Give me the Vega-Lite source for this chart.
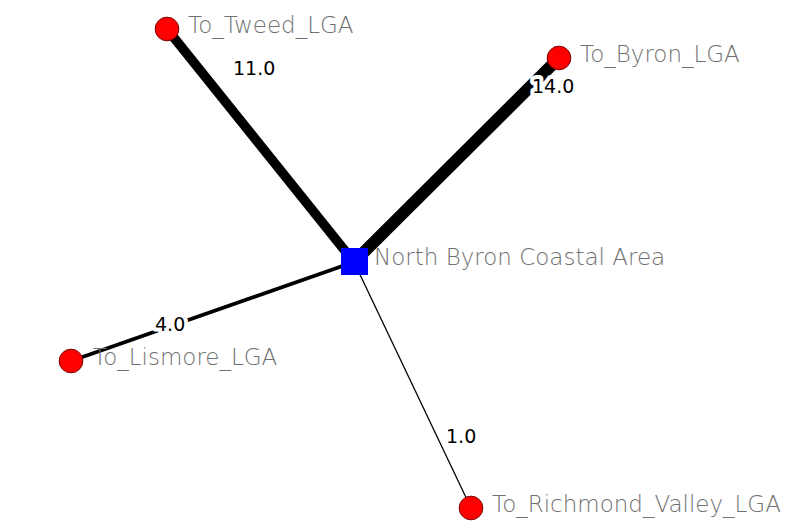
{
  "$schema": "https://vega.github.io/schema/vega-lite/v6.json",
  "width": 789,
  "height": 523,
  "autosize": "none",
  "padding": 0,
  "background": "white",
  "config": {"view": {"stroke": null}},
  "datasets": {
    "edges": [
      {"target": "To_Tweed_LGA", "weight": 11, "sx": 354, "sy": 262, "tx": 167, "ty": 29, "lx": 233, "ly": 75, "label": "11.0"},
      {"target": "To_Byron_LGA", "weight": 14, "sx": 354, "sy": 262, "tx": 559, "ty": 58, "lx": 532, "ly": 93, "label": "14.0"},
      {"target": "To_Lismore_LGA", "weight": 4, "sx": 354, "sy": 262, "tx": 71, "ty": 361, "lx": 155, "ly": 331, "label": "4.0"},
      {"target": "To_Richmond_Valley_LGA", "weight": 1, "sx": 354, "sy": 262, "tx": 471, "ty": 508, "lx": 446, "ly": 443, "label": "1.0"}
    ],
    "nodes": [
      {"name": "North Byron Coastal Area", "kind": "origin", "x": 354.5, "y": 261.5, "labx": 374, "laby": 265},
      {"name": "To_Tweed_LGA", "kind": "destination", "x": 167, "y": 29, "labx": 188, "laby": 33},
      {"name": "To_Byron_LGA", "kind": "destination", "x": 559, "y": 58, "labx": 580, "laby": 62},
      {"name": "To_Lismore_LGA", "kind": "destination", "x": 71, "y": 361, "labx": 93, "laby": 365},
      {"name": "To_Richmond_Valley_LGA", "kind": "destination", "x": 471, "y": 508, "labx": 492, "laby": 512}
    ]
  },
  "layer": [
    {
      "data": {"name": "edges"},
      "mark": {"type": "rule", "color": "black", "strokeCap": "butt"},
      "encoding": {
        "x": {"field": "sx", "type": "quantitative", "scale": {"domain": [0, 789], "nice": false, "zero": false}, "axis": null},
        "y": {"field": "sy", "type": "quantitative", "scale": {"domain": [523, 0], "nice": false, "zero": false}, "axis": null},
        "x2": {"field": "tx"},
        "y2": {"field": "ty"},
        "strokeWidth": {"field": "weight", "type": "quantitative", "scale": {"domain": [1, 14], "range": [1.3, 12]}, "legend": null}
      }
    },
    {
      "data": {"name": "edges"},
      "mark": {"type": "text", "align": "left", "baseline": "alphabetic", "font": "DejaVu Sans", "fontSize": 19, "color": "black", "stroke": "white", "strokeWidth": 8, "strokeOpacity": 1, "strokeJoin": "round"},
      "encoding": {
        "x": {"field": "lx", "type": "quantitative"},
        "y": {"field": "ly", "type": "quantitative"},
        "text": {"field": "label"}
      }
    },
    {
      "data": {"name": "edges"},
      "mark": {"type": "text", "align": "left", "baseline": "alphabetic", "font": "DejaVu Sans", "fontSize": 19, "color": "black"},
      "encoding": {
        "x": {"field": "lx", "type": "quantitative"},
        "y": {"field": "ly", "type": "quantitative"},
        "text": {"field": "label"}
      }
    },
    {
      "data": {"name": "nodes"},
      "mark": {"type": "point", "filled": true, "opacity": 1, "stroke": "#7a0000", "strokeWidth": 1},
      "encoding": {
        "x": {"field": "x", "type": "quantitative"},
        "y": {"field": "y", "type": "quantitative"},
        "shape": {"field": "kind", "type": "nominal", "scale": {"domain": ["origin", "destination"], "range": ["square", "circle"]}, "legend": null},
        "color": {"field": "kind", "type": "nominal", "scale": {"domain": ["origin", "destination"], "range": ["#0000ff", "#ff0000"]}, "legend": null},
        "size": {"field": "kind", "type": "nominal", "scale": {"domain": ["origin", "destination"], "range": [729, 560]}, "legend": null},
        "strokeOpacity": {"field": "kind", "type": "nominal", "scale": {"domain": ["origin", "destination"], "range": [0, 1]}, "legend": null}
      }
    },
    {
      "data": {"name": "nodes"},
      "mark": {"type": "text", "align": "left", "baseline": "alphabetic", "font": "DejaVu Sans", "fontSize": 23, "fontWeight": 300, "color": "#707070"},
      "encoding": {
        "x": {"field": "labx", "type": "quantitative"},
        "y": {"field": "laby", "type": "quantitative"},
        "text": {"field": "name"}
      }
    }
  ]
}
